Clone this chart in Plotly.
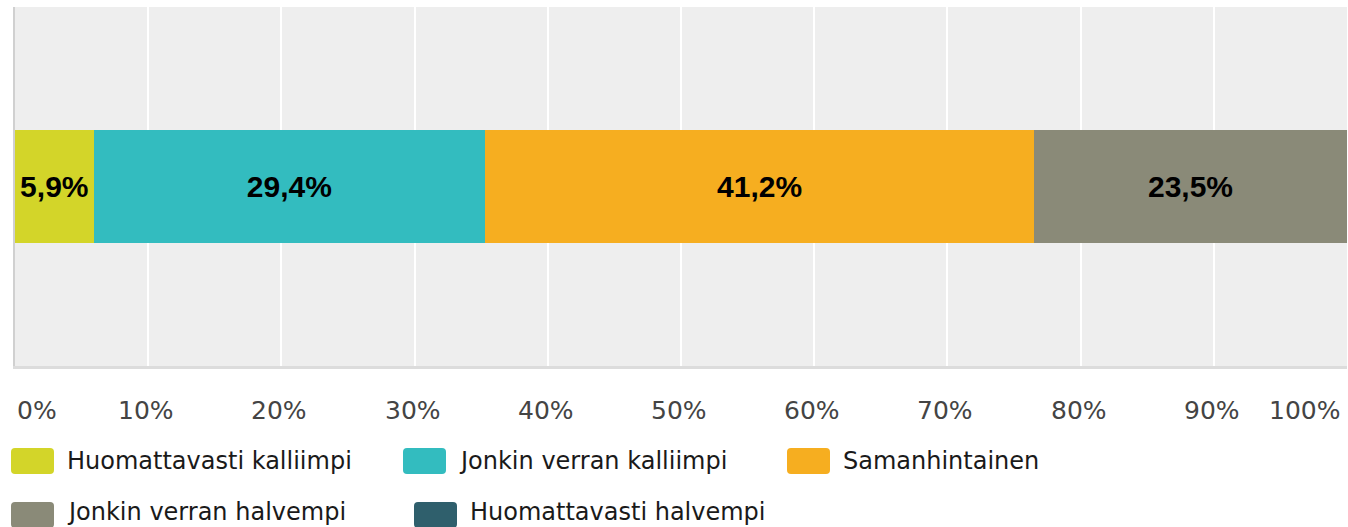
import plotly.graph_objects as go

# ---- data ----
series_names = ["Huomattavasti kalliimpi", "Jonkin verran kalliimpi", "Samanhintainen",
                "Jonkin verran halvempi", "Huomattavasti halvempi"]
series_values = [5.9, 29.4, 41.2, 23.5, 0.0]
series_colors = ["#d3d529", "#33bcbf", "#f6ae20", "#8a8a78", "#2f5f6c"]
category = [""]
tick_values = [0, 10, 20, 30, 40, 50, 60, 70, 80, 90, 100]
tick_labels = ["0%", "10%", "20%", "30%", "40%", "50%", "60%", "70%", "80%", "90%", "100%"]

# ---- layout constants (pixels) ----
W, H = 1348, 527
ML, MR, MT, MB = 15, 1, 7, 161
PW = W - ML - MR
PH = H - MT - MB


def px_x(px):
    return (px - ML) / PW


def px_y(py):
    return (H - MB - py) / PH


fig = go.Figure()
for name, val, col in zip(series_names, series_values, series_colors):
    fig.add_trace(go.Bar(
        y=category, x=[val], orientation="h", name=name,
        marker=dict(color=col, line=dict(width=0)),
        texttemplate="%{x:.1f}%" if val > 0 else "",
        textposition="inside" if val > 0 else "none",
        insidetextanchor="middle",
        textfont=dict(family="Liberation Sans", size=30, color="#000000", weight="bold"),
        hoverinfo="skip",
        width=0.315,
        showlegend=False,
    ))

annotations = []
shapes = []

# tick labels under the axis
for v, lab in zip(tick_values, tick_labels):
    if v == tick_values[0]:
        anchor, shift = "left", 0
    elif v == tick_values[-1]:
        anchor, shift = "right", -5
    else:
        anchor, shift = "center", -2
    annotations.append(dict(
        x=v, xref="x", y=px_y(410), yref="paper", text=lab, showarrow=False,
        xanchor=anchor, yanchor="middle", xshift=shift,
        font=dict(family="DejaVu Sans", size=25, color="#444444"),
    ))

# custom legend: (swatch x, swatch y, text centre y)
legend_slots = [(11, 448, 461), (403, 448, 461), (787, 448, 461), (11, 502, 512), (414, 502, 512)]
sw_w, sw_h, rad = 43, 26, 4
for (sx, sy, ty), name, col in zip(legend_slots, series_names, series_colors):
    x0, x1 = sx, sx + sw_w
    y0, y1 = sy, sy + sw_h
    pts = lambda a, b: f"{px_x(a):.6f},{px_y(b):.6f}"
    path = (f"M {pts(x0 + rad, y0)} L {pts(x1 - rad, y0)} Q {pts(x1, y0)} {pts(x1, y0 + rad)} "
            f"L {pts(x1, y1 - rad)} Q {pts(x1, y1)} {pts(x1 - rad, y1)} "
            f"L {pts(x0 + rad, y1)} Q {pts(x0, y1)} {pts(x0, y1 - rad)} "
            f"L {pts(x0, y0 + rad)} Q {pts(x0, y0)} {pts(x0 + rad, y0)} Z")
    shapes.append(dict(type="path", path=path, xref="paper", yref="paper",
                       fillcolor=col, line=dict(width=0), layer="above"))
    annotations.append(dict(
        x=px_x(x1 + 12), xref="paper", y=px_y(ty), yref="paper",
        text=name, showarrow=False, xanchor="left", yanchor="middle", borderpad=0,
        font=dict(family="DejaVu Sans", size=24, color="#1a1a1a"),
    ))

fig.update_layout(
    width=W, height=H,
    margin=dict(l=ML, r=MR, t=MT, b=MB, pad=0),
    barmode="stack",
    separators=", ",
    plot_bgcolor="#eeeeee",
    paper_bgcolor="#ffffff",
    showlegend=False,
    uniformtext=dict(minsize=30, mode="show"),
    xaxis=dict(range=[0, 100], tickvals=tick_values, showticklabels=False,
               showgrid=True, gridcolor="#ffffff", gridwidth=2, zeroline=False,
               showline=True, linecolor="#dcdcdc", linewidth=3, ticks="", fixedrange=True),
    yaxis=dict(range=[-0.5, 0.5], showticklabels=False, showgrid=False, zeroline=False,
               showline=True, linecolor="#d0d0d0", linewidth=2, ticks="", fixedrange=True),
    annotations=annotations,
    shapes=shapes,
)

fig.write_html("out.html", config={"displayModeBar": False},
               post_script="document.body.style.margin='0px';document.body.style.overflow='hidden';")
